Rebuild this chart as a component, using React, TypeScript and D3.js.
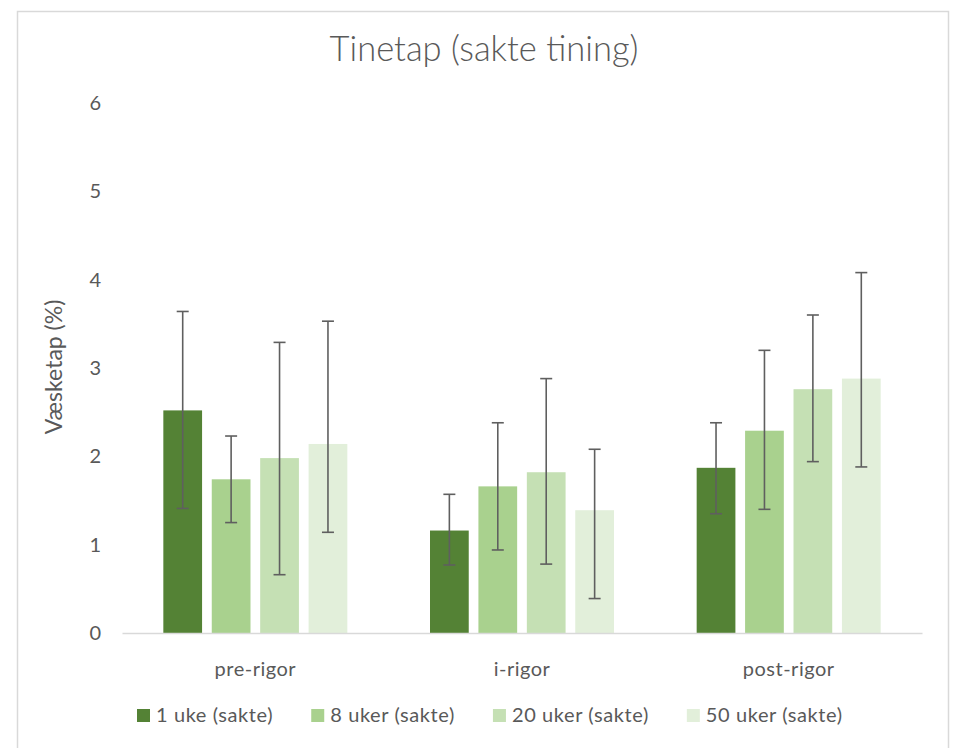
import React, { useEffect, useRef } from "react";
import * as d3 from "d3";

// data
const categories = ["pre-rigor", "i-rigor", "post-rigor"];
const series = ["1 uke (sakte)", "8 uker (sakte)", "20 uker (sakte)", "50 uker (sakte)"];
const colors = ["#548235", "#A9D18E", "#C5E0B4", "#E2EFDA"];
// one array per series: pre, i, post
const values = [
	[2.52, 1.16, 1.87],
	[1.74, 1.66, 2.29],
	[1.98, 1.82, 2.76],
	[2.14, 1.39, 2.88],
];
const upper = [
	[3.64, 1.57, 2.38],
	[2.23, 2.38, 3.2],
	[3.29, 2.88, 3.6],
	[3.53, 2.08, 4.08],
];
const lower = [
	[1.41, 0.77, 1.35],
	[1.25, 0.94, 1.4],
	[0.66, 0.78, 1.94],
	[1.14, 0.39, 1.88],
];
const yTicks = [0, 1, 2, 3, 4, 5, 6];

const FONT = "Lato, 'Open Sans', sans-serif";
const TEXT = "#595959";

export default function App() {
	const svgRef = useRef<SVGSVGElement | null>(null);

	useEffect(() => {
		if (!svgRef.current) return;
		const svg = d3.select(svgRef.current);
		svg.selectAll("*").remove();

		const width = 960;
		const height = 748;
		const margin = { top: 103, right: 38, bottom: 115, left: 122 };
		const innerW = width - margin.left - margin.right;
		const innerH = height - margin.top - margin.bottom;

		// chart area frame
		svg.append("rect").attr("width", width).attr("height", height).attr("fill", "#fff");
		svg
			.append("rect")
			.attr("x", 17.5)
			.attr("y", 11.5)
			.attr("width", 931)
			.attr("height", 760)
			.attr("fill", "none")
			.attr("stroke", "#d9d9d9")
			.attr("stroke-width", 1.5);

		const g = svg.append("g").attr("transform", `translate(${margin.left},${margin.top})`);

		const x0 = d3.scaleBand().domain(categories).range([0, innerW]).padding(0);
		const gap = x0.bandwidth() * 0.155;
		const x1 = d3
			.scaleBand()
			.domain(series)
			.range([gap, x0.bandwidth() - gap])
			.paddingInner(0.2)
			.paddingOuter(0);
		const y = d3.scaleLinear().domain([0, 6]).range([innerH, 0]);

		// title
		svg
			.append("text")
			.attr("x", 484)
			.attr("y", 61)
			.attr("text-anchor", "middle")
			.attr("font-family", FONT)
			.attr("font-weight", 300)
			.attr("font-size", 34.5)
			.attr("fill", TEXT)
			.text("Tinetap (sakte tining)");

		// y ticks
		const yAxis = g
			.append("g")
			.call(d3.axisLeft(y).tickValues(yTicks).tickFormat(d3.format("d")).tickSize(0).tickPadding(21));
		yAxis.select(".domain").remove();
		yAxis
			.selectAll("text")
			.attr("font-family", FONT)
			.attr("font-size", 20)
			.attr("fill", TEXT);

		// y title
		svg
			.append("text")
			.attr("transform", `translate(62,${margin.top + innerH / 2 - 1}) rotate(-90)`)
			.attr("text-anchor", "middle")
			.attr("font-family", FONT)
			.attr("font-size", 23)
			.attr("fill", TEXT)
			.text("Væsketap (%)");

		// bars
		series.forEach((s, si) => {
			g.append("g")
				.selectAll("rect")
				.data(categories)
				.enter()
				.append("rect")
				.attr("x", (c) => (x0(c) || 0) + (x1(s) || 0))
				.attr("y", (c, ci) => y(values[si][ci]))
				.attr("width", x1.bandwidth())
				.attr("height", (c, ci) => innerH - y(values[si][ci]))
				.attr("fill", colors[si]);
		});

		// x axis line
		const xAxis = g
			.append("g")
			.attr("transform", `translate(0,${innerH})`)
			.call(d3.axisBottom(x0).tickSize(0).tickPadding(29));
		xAxis.select(".domain").attr("stroke", "#d9d9d9").attr("stroke-width", 1.5);
		xAxis
			.selectAll("text")
			.attr("font-family", FONT)
			.attr("font-size", 20)
			.attr("letter-spacing", 0.5)
			.attr("fill", TEXT);

		// error bars
		series.forEach((s, si) => {
			const eg = g.append("g").attr("stroke", "#5f5f5f").attr("stroke-width", 1.6);
			categories.forEach((c, ci) => {
				const cx = (x0(c) || 0) + (x1(s) || 0) + x1.bandwidth() / 2;
				const yt = y(upper[si][ci]);
				const yb = y(lower[si][ci]);
				eg.append("line").attr("x1", cx).attr("x2", cx).attr("y1", yt).attr("y2", yb);
				eg.append("line").attr("x1", cx - 6).attr("x2", cx + 6).attr("y1", yt).attr("y2", yt);
				eg.append("line").attr("x1", cx - 6).attr("x2", cx + 6).attr("y1", yb).attr("y2", yb);
			});
		});

		// legend
		const legend = svg.append("g").attr("transform", "translate(0,722)");
		let lx = 137;
		series.forEach((s, si) => {
			const item = legend.append("g").attr("transform", `translate(${lx},0)`);
			item.append("rect").attr("x", 0).attr("y", -13).attr("width", 13).attr("height", 13).attr("fill", colors[si]);
			const t = item
				.append("text")
				.attr("x", 19)
				.attr("y", 0)
				.attr("font-family", FONT)
				.attr("font-size", 20)
				.attr("letter-spacing", 0.6)
				.attr("fill", TEXT)
				.text(s);
			const w = (t.node() as SVGTextElement).getComputedTextLength();
			lx += 19 + w + 38;
		});
	}, []);

	return (
		<svg
			ref={svgRef}
			width={960}
			height={748}
			style={{ position: "absolute", left: 0, top: 0, display: "block" }}
		/>
	);
}
